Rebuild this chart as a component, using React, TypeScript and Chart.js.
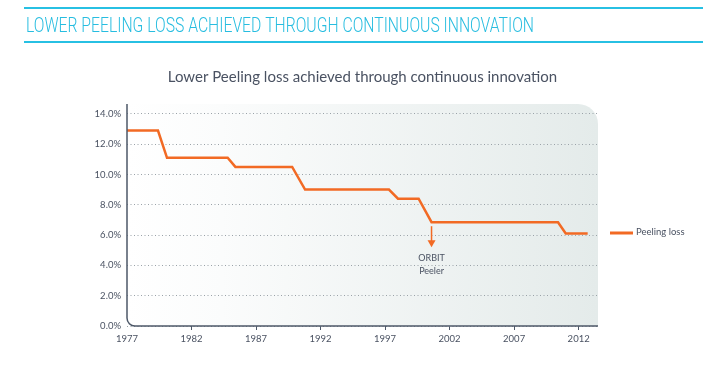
import React, { useEffect, useRef } from 'react';
import { Chart, registerables } from 'chart.js';

Chart.register(...registerables);

const headerText = 'LOWER PEELING LOSS ACHIEVED THROUGH CONTINUOUS INNOVATION';
const chartTitle = 'Lower Peeling loss achieved through continuous innovation';
const seriesLabel = 'Peeling loss';

const years = [1977, 1979.4, 1980.1, 1984.8, 1985.4, 1989.8, 1990.8, 1997.3, 1998.0, 1999.6, 2000.6, 2010.4, 2011.0, 2012.7];
const peelingLoss = [12.9, 12.9, 11.1, 11.1, 10.5, 10.5, 9.0, 9.0, 8.4, 8.4, 6.85, 6.85, 6.1, 6.1];

const xTickYears = [1977, 1982, 1987, 1992, 1997, 2002, 2007, 2012];
const yTickValues = [0, 2, 4, 6, 8, 10, 12, 14];

const annotationYear = 2000.6;
const annotationValue = 6.85;
const annotationLines = ['ORBIT', 'Peeler'];

const ORANGE = '#f26a24';
const AXIS = '#4d5868';
const TEXT = '#4a5262';
const FONT = 'Lato, "Open Sans", sans-serif';
const HEADER_FONT = '300 20px Roboto, "Open Sans", sans-serif';
const HEADER_WIDTH = 508;

const decorPlugin = {
  id: 'decor',
  beforeDraw(chart: any) {
    const { ctx, chartArea } = chart;
    const { left, right, top, bottom } = chartArea;
    const rTR = 20;
    const rBL = 8;
    ctx.save();
    const g = ctx.createLinearGradient(left, 0, right, 0);
    g.addColorStop(0, 'rgba(255,255,255,1)');
    g.addColorStop(0.2, '#fbfcfc');
    g.addColorStop(1, '#e4ebea');
    ctx.fillStyle = g;
    ctx.beginPath();
    ctx.moveTo(left, top);
    ctx.lineTo(right - rTR, top);
    ctx.arcTo(right, top, right, top + rTR, rTR);
    ctx.lineTo(right, bottom);
    ctx.lineTo(left + rBL, bottom);
    ctx.arcTo(left, bottom, left, bottom - rBL, rBL);
    ctx.closePath();
    ctx.fill();

    ctx.fillStyle = TEXT;
    ctx.font = '15px ' + FONT;
    ctx.textAlign = 'center';
    ctx.textBaseline = 'middle';
    ctx.fillText(chartTitle, (left + right) / 2, top - 27);

    ctx.font = HEADER_FONT;
    const w = ctx.measureText(headerText).width;
    ctx.save();
    ctx.translate(26, 26.5);
    ctx.scale(HEADER_WIDTH / w, 1);
    ctx.fillStyle = '#27bde0';
    ctx.textAlign = 'left';
    ctx.textBaseline = 'middle';
    ctx.fillText(headerText, 0, 0);
    ctx.restore();
    ctx.strokeStyle = '#27c0e3';
    ctx.lineWidth = 2;
    ctx.beginPath();
    ctx.moveTo(24, 8);
    ctx.lineTo(703, 8);
    ctx.moveTo(24, 42);
    ctx.lineTo(703, 42);
    ctx.stroke();
    ctx.restore();
  },
  afterDraw(chart: any) {
    const { ctx, chartArea, scales } = chart;
    const { left, right, top, bottom } = chartArea;
    const rBL = 8;
    ctx.save();
    ctx.strokeStyle = AXIS;
    ctx.lineWidth = 1.5;
    ctx.beginPath();
    ctx.moveTo(left, top);
    ctx.lineTo(left, bottom - rBL);
    ctx.arcTo(left, bottom, left + rBL, bottom, rBL);
    ctx.lineTo(right, bottom);
    ctx.stroke();

    const ax = scales.x.getPixelForValue(annotationYear);
    const ay = scales.y.getPixelForValue(annotationValue);
    ctx.strokeStyle = ORANGE;
    ctx.fillStyle = ORANGE;
    ctx.lineWidth = 1.5;
    ctx.beginPath();
    ctx.moveTo(ax, ay + 4);
    ctx.lineTo(ax, ay + 20);
    ctx.stroke();
    ctx.beginPath();
    ctx.moveTo(ax - 4, ay + 18);
    ctx.lineTo(ax + 4, ay + 18);
    ctx.lineTo(ax, ay + 25);
    ctx.closePath();
    ctx.fill();
    ctx.fillStyle = TEXT;
    ctx.font = '9px ' + FONT;
    ctx.textAlign = 'center';
    ctx.textBaseline = 'middle';
    annotationLines.forEach((t, i) => ctx.fillText(t, ax, ay + 36 + i * 12.5));

    const ly = top + 129;
    ctx.strokeStyle = ORANGE;
    ctx.lineWidth = 3;
    ctx.beginPath();
    ctx.moveTo(right + 12, ly);
    ctx.lineTo(right + 35, ly);
    ctx.stroke();
    ctx.fillStyle = TEXT;
    ctx.font = '9.5px ' + FONT;
    ctx.textAlign = 'left';
    ctx.fillText(seriesLabel, right + 38, ly - 1);
    ctx.restore();
  },
};

export default function App() {
  const ref = useRef<HTMLCanvasElement>(null);
  useEffect(() => {
    if (!ref.current) return;
    const chart = new Chart(ref.current, {
      type: 'line',
      data: {
        datasets: [
          {
            label: seriesLabel,
            data: years.map((y, i) => ({ x: y, y: peelingLoss[i] })),
            borderColor: ORANGE,
            backgroundColor: ORANGE,
            borderWidth: 2.5,
            pointRadius: 0,
            tension: 0,
            borderJoinStyle: 'miter',
          },
        ],
      },
      options: {
        animation: false,
        responsive: false,
        maintainAspectRatio: false,
        layout: { padding: { left: 77, right: 125, top: 104, bottom: 20 } },
        plugins: { legend: { display: false }, tooltip: { enabled: false }, title: { display: false } },
        scales: {
          x: {
            type: 'linear',
            min: 1977,
            max: 2013.5,
            afterBuildTicks: (s: any) => {
              s.ticks = xTickYears.map((v) => ({ value: v }));
            },
            afterFit: (s: any) => {
              s.height = 20;
            },
            grid: {
              drawOnChartArea: false,
              drawTicks: true,
              tickLength: 4,
              color: (c: any) => (c.tick && c.tick.value === 1977 ? 'rgba(0,0,0,0)' : AXIS),
              lineWidth: 1,
            },
            border: { display: false },
            ticks: {
              color: TEXT,
              font: { family: FONT, size: 9.5 },
              padding: 3,
              maxRotation: 0,
              autoSkip: false,
              callback: (v: any) => String(v),
            },
          },
          y: {
            min: 0,
            max: 14.65,
            afterBuildTicks: (s: any) => {
              s.ticks = yTickValues.map((v) => ({ value: v }));
            },
            afterFit: (s: any) => {
              s.width = 50;
            },
            grid: {
              drawTicks: false,
              color: '#9aa2a8',
              lineWidth: 1,
            },
            border: { display: false, dash: [1, 2.5] },
            ticks: {
              color: TEXT,
              font: { family: FONT, size: 9.5 },
              padding: 6,
              callback: (v: any) => Number(v).toFixed(1) + '%',
            },
          },
        },
      } as any,
      plugins: [decorPlugin],
    });
    return () => chart.destroy();
  }, []);

  return (
    <div style={{ position: 'fixed', left: 0, top: 0, width: 723, height: 366, background: '#fff' }}>
      <canvas ref={ref} width={723} height={366} style={{ position: 'absolute', left: 0, top: 0 }} />
    </div>
  );
}
